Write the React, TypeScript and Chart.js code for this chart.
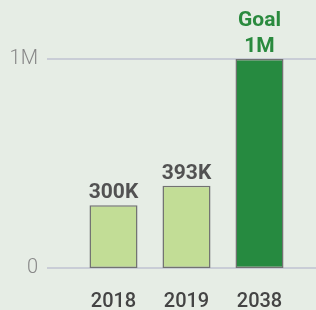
import React, { useEffect, useRef } from "react";
import { Chart, registerables } from "chart.js";

Chart.register(...registerables);

const categories = ["2018", "2019", "2038"];
const values = [300000, 393000, 1000000];
const valueLabels = [["300K"], ["393K"], ["Goal", "1M"]];
const barColors = ["#c2dd96", "#c2dd96", "#268a40"];
const valueLabelColors = ["#525252", "#525252", "#2a8a3e"];
const yTickValues = [0, 1000000];
const yTickLabels = ["0", "1M"];

const BG = "#e6ede5";

const gridPlugin = {
  id: "fullGrid",
  beforeDatasetsDraw(chart: any) {
    const { ctx, scales } = chart;
    const y = scales.y;
    ctx.save();
    ctx.strokeStyle = "#c9cdd6";
    ctx.lineWidth = 2;
    yTickValues.forEach((v) => {
      const py = y.getPixelForValue(v);
      ctx.beginPath();
      ctx.moveTo(47, py);
      ctx.lineTo(chart.width, py);
      ctx.stroke();
    });
    ctx.restore();
  },
};

const valueLabelPlugin = {
  id: "valueLabels",
  afterDatasetsDraw(chart: any) {
    const { ctx } = chart;
    const meta = chart.getDatasetMeta(0);
    ctx.save();
    ctx.font = "bold 21px Roboto";
    ctx.textAlign = "center";
    ctx.textBaseline = "alphabetic";
    meta.data.forEach((bar: any, i: number) => {
      const lines = valueLabels[i];
      ctx.fillStyle = valueLabelColors[i];
      lines.forEach((line, j) => {
        const offset = (lines.length - 1 - j) * 26.5;
        ctx.fillText(line, bar.x, bar.y - 7 - offset);
      });
    });
    ctx.restore();
  },
};

export default function App() {
  const ref = useRef<HTMLCanvasElement | null>(null);
  useEffect(() => {
    document.body.style.margin = "0";
    document.body.style.background = BG;
    const chart = new Chart(ref.current as HTMLCanvasElement, {
      type: "bar",
      data: {
        labels: categories,
        datasets: [
          {
            data: values,
            backgroundColor: barColors,
            borderColor: "#727272",
            borderWidth: 1.5,
            borderSkipped: false,
            barPercentage: 0.658,
            categoryPercentage: 1,
          },
        ],
      },
      options: {
        animation: false,
        responsive: false,
        events: [],
        layout: { padding: { top: 59, right: 20, left: 0, bottom: 0 } },
        plugins: { legend: { display: false }, tooltip: { enabled: false } },
        scales: {
          x: {
            grid: { display: false, drawTicks: false },
            border: { display: false },
            ticks: {
              color: "#444444",
              font: { family: "Roboto", size: 20, weight: 500 },
              padding: 22,
            },
            afterFit: (s: any) => {
              s.height = 42;
            },
          },
          y: {
            min: 0,
            max: 1000000,
            grid: { display: false, drawTicks: false },
            border: { display: false },
            afterBuildTicks: (s: any) => {
              s.ticks = yTickValues.map((v) => ({ value: v }));
            },
            ticks: {
              color: "#888888",
              font: { family: "Roboto", size: 20, weight: 300 },
              padding: 39,
              callback: (v: any) => yTickLabels[yTickValues.indexOf(Number(v))],
            },
            afterFit: (s: any) => {
              s.width = 77;
              s.paddingTop = 0;
              s.paddingBottom = 0;
            },
          },
        },
      },
      plugins: [gridPlugin, valueLabelPlugin],
    });
    return () => chart.destroy();
  }, []);
  return (
    <div style={{ width: 316, height: 310, background: BG }}>
      <canvas ref={ref} width={316} height={310} />
    </div>
  );
}
